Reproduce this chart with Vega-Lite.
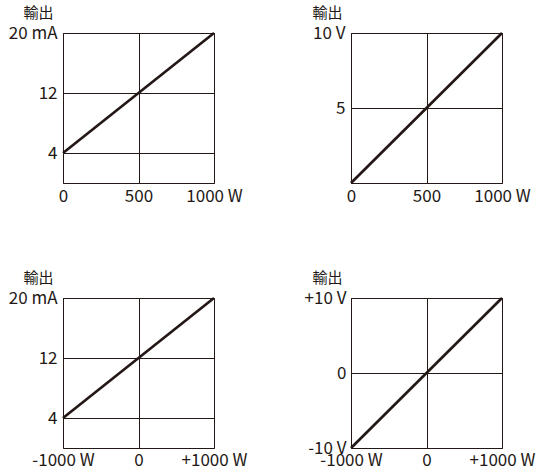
{
  "$schema": "https://vega.github.io/schema/vega-lite/v6.json",
  "background": "white",
  "padding": {"left": 7, "top": 4, "right": 5, "bottom": 5},
  "config": {
    "font": "Noto Sans CJK JP",
    "view": {"stroke": "#231815", "strokeWidth": 1},
    "axis": {
      "labelFont": "Noto Sans CJK JP", "labelFontSize": 17, "labelColor": "#231815",
      "ticks": false, "domain": false, "grid": true,
      "gridColor": "#231815", "gridOpacity": 1, "gridWidth": 1,
      "labelFlush": false, "labelOverlap": false,
      "titleFont": "Noto Sans CJK JP", "titleFontSize": 15, "titleFontWeight": "normal", "titleColor": "#231815"
    }
  },
  "data": {"values": [
    {"panel": "A", "x": 0, "y": 4}, {"panel": "A", "x": 1000, "y": 20},
    {"panel": "B", "x": 0, "y": 0}, {"panel": "B", "x": 1000, "y": 10},
    {"panel": "C", "x": -1000, "y": 4}, {"panel": "C", "x": 1000, "y": 20},
    {"panel": "D", "x": -1000, "y": -10}, {"panel": "D", "x": 1000, "y": 10}
  ]},
  "columns": 2,
  "bounds": "flush",
  "spacing": {"row": 115, "column": 137},
  "concat": [
    {
      "width": 151, "height": 150,
      "transform": [{"filter": "datum.panel === 'A'"}],
      "mark": {"type": "line", "color": "#231815", "strokeWidth": 2.7},
      "encoding": {
        "x": {"field": "x", "type": "quantitative", "scale": {"domain": [0, 1000], "nice": false},
              "axis": {"values": [0, 500, 1000], "labelExpr": "datum.value == 1000 ? '1000 W' : datum.value == 500 ? '500' : '0'", "title": null, "labelPadding": 5}},
        "y": {"field": "y", "type": "quantitative", "scale": {"domain": [0, 20], "nice": false},
              "axis": {"values": [4, 12, 20], "labelExpr": "datum.value == 20 ? '20 mA' : datum.value == 12 ? '12' : '4'", "title": "輸出", "titleAngle": 0, "titleAlign": "right", "titleBaseline": "bottom", "titleX": -10, "titleY": -13, "labelPadding": 6}}
      }
    },
    {
      "width": 151, "height": 150,
      "transform": [{"filter": "datum.panel === 'B'"}],
      "mark": {"type": "line", "color": "#231815", "strokeWidth": 2.7},
      "encoding": {
        "x": {"field": "x", "type": "quantitative", "scale": {"domain": [0, 1000], "nice": false},
              "axis": {"values": [0, 500, 1000], "labelExpr": "datum.value == 1000 ? '1000 W' : datum.value == 500 ? '500' : '0'", "title": null, "labelPadding": 5}},
        "y": {"field": "y", "type": "quantitative", "scale": {"domain": [0, 10], "nice": false},
              "axis": {"values": [5, 10], "labelExpr": "datum.value == 10 ? '10 V' : '5'", "title": "輸出", "titleAngle": 0, "titleAlign": "right", "titleBaseline": "bottom", "titleX": -9, "titleY": -13, "labelPadding": 6}}
      }
    },
    {
      "width": 151, "height": 150,
      "transform": [{"filter": "datum.panel === 'C'"}],
      "mark": {"type": "line", "color": "#231815", "strokeWidth": 2.7},
      "encoding": {
        "x": {"field": "x", "type": "quantitative", "scale": {"domain": [-1000, 1000], "nice": false},
              "axis": {"values": [-1000, 0, 1000], "labelExpr": "datum.value == 1000 ? '+1000 W' : datum.value == 0 ? '0' : '-1000 W'", "title": null, "labelPadding": 4}},
        "y": {"field": "y", "type": "quantitative", "scale": {"domain": [0, 20], "nice": false},
              "axis": {"values": [4, 12, 20], "labelExpr": "datum.value == 20 ? '20 mA' : datum.value == 12 ? '12' : '4'", "title": "輸出", "titleAngle": 0, "titleAlign": "right", "titleBaseline": "bottom", "titleX": -10, "titleY": -13, "labelPadding": 6}}
      }
    },
    {
      "width": 151, "height": 150,
      "transform": [{"filter": "datum.panel === 'D'"}],
      "mark": {"type": "line", "color": "#231815", "strokeWidth": 2.7},
      "encoding": {
        "x": {"field": "x", "type": "quantitative", "scale": {"domain": [-1000, 1000], "nice": false},
              "axis": {"values": [-1000, 0, 1000], "labelExpr": "datum.value == 1000 ? '+1000 W' : datum.value == 0 ? '0' : '-1000 W'", "title": null, "labelPadding": 4}},
        "y": {"field": "y", "type": "quantitative", "scale": {"domain": [-10, 10], "nice": false},
              "axis": {"values": [-10, 0, 10], "labelExpr": "datum.value == 10 ? '+10 V' : datum.value == 0 ? '0' : '-10 V'", "title": "輸出", "titleAngle": 0, "titleAlign": "right", "titleBaseline": "bottom", "titleX": -9, "titleY": -13, "labelPadding": 5}}
      }
    }
  ]
}
